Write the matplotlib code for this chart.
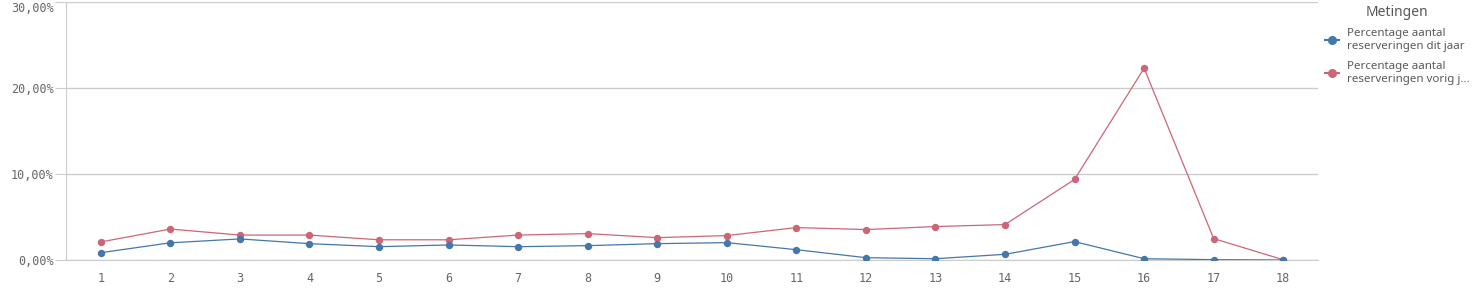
import matplotlib
matplotlib.use("Agg")
import matplotlib.pyplot as plt
from matplotlib.lines import Line2D
from matplotlib.ticker import FuncFormatter

categories = list(range(1, 19))
dit_jaar = [0.85, 2.0, 2.45, 1.9, 1.55, 1.75, 1.55, 1.67, 1.9, 2.02, 1.2, 0.27, 0.15, 0.66, 2.14, 0.15, 0.04, 0.0]
vorig_jaar = [2.1, 3.6, 2.9, 2.9, 2.35, 2.35, 2.9, 3.07, 2.6, 2.84, 3.77, 3.54, 3.89, 4.12, 9.37, 22.3, 2.49, 0.03]
series_names = ["Percentage aantal\nreserveringen dit jaar", "Percentage aantal\nreserveringen vorig j..."]
legend_title = "Metingen"
yticks = [0, 10, 20, 30]

blue = "#4477aa"
red = "#cc6677"
grid = "#cccccc"
txt = "#666666"

fig = plt.figure(figsize=(14.8, 2.92), dpi=100)
ax = fig.add_axes([66/1480, 32/292, (1318-66)/1480, (258-0)/292])

ax.plot(categories, vorig_jaar, color=red, lw=0.9, marker="o", ms=4.3, zorder=3)
ax.plot(categories, dit_jaar, color=blue, lw=0.9, marker="o", ms=4.3, zorder=3)

ax.set_xlim(0.5, 18.5)
ax.set_ylim(0, 30)
ax.set_yticks(yticks)
ax.yaxis.set_major_formatter(FuncFormatter(lambda v, p: f"{v:.2f}%".replace(".", ",")))
ax.set_xticks(categories)
ax.grid(axis="y", color=grid, lw=1)
ax.set_axisbelow(True)
for s in ["top", "right"]:
    ax.spines[s].set_visible(False)
ax.spines["left"].set_color(grid)
ax.spines["bottom"].set_color(grid)
ax.tick_params(axis="y", length=8, color=grid, labelsize=8.5, labelcolor=txt, pad=1)
ax.tick_params(axis="x", length=0, labelsize=8.5, labelcolor=txt, pad=9)
for lab in ax.get_yticklabels() + ax.get_xticklabels():
    lab.set_fontfamily("DejaVu Sans Mono")
ax.get_yticklabels()[-1].set_va("top")

# legend
fig.text(1397/1480, 1 - 12/292, legend_title, ha="center", va="center", fontsize=10, color="#595959", family="Noto Sans")
for i, (name, col) in enumerate(zip(series_names, [blue, red])):
    yc = 1 - (40 + 33*i)/292
    fig.add_artist(Line2D([1325/1480, 1339/1480], [yc, yc], color=col, lw=1.5,
                          transform=fig.transFigure))
    fig.add_artist(Line2D([1332/1480], [yc], color=col, marker="o", ms=5.5, lw=0,
                          transform=fig.transFigure))
    fig.text(1347/1480, yc, name, ha="left", va="center", fontsize=8.3, color="#595959",
             family="Noto Sans", linespacing=1.2)

fig.savefig("out.png", dpi=100)
